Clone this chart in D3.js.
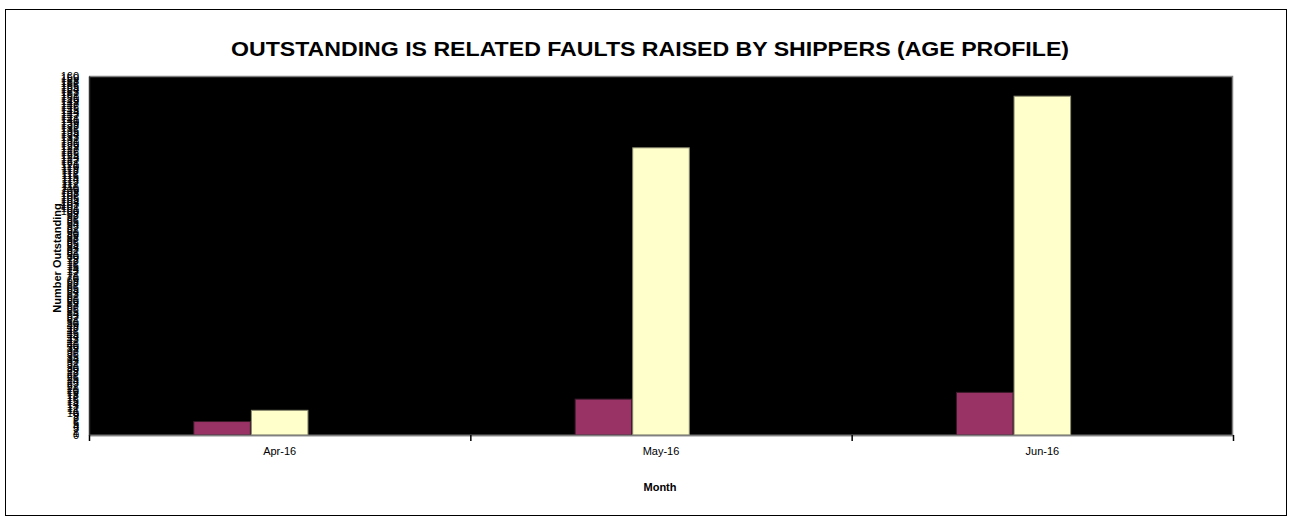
<!DOCTYPE html>
<html>
<head>
<meta charset="utf-8">
<script src="https://cdn.jsdelivr.net/npm/d3@7"></script>
<style>
  html, body { margin: 0; padding: 0; background: #ffffff; }
  svg { display: block; font-family: Arial, "Liberation Sans", sans-serif; }
</style>
</head>
<body>
<svg id="chart" width="1292" height="522"></svg>
<script>
// ---- data ----
const months = ["Apr-16", "May-16", "Jun-16"];
const seriesKeys = ["older", "recent", "other"];
const seriesOlder = [6, 16, 19];
const seriesRecent = [11, 128, 151];
const seriesOther = [0, 0, 0];
const yTicks = d3.range(0, 161, 1);
const titleText = "OUTSTANDING IS RELATED FAULTS RAISED BY SHIPPERS (AGE PROFILE)";
const xTitle = "Month";
const yTitle = "Number Outstanding";

const seriesValues = { older: seriesOlder, recent: seriesRecent, other: seriesOther };
const seriesFill = { older: "#993366", recent: "#FFFFCC", other: "none" };
const seriesStroke = { older: "#3a1a28", recent: "#8a8a70", other: "none" };

const svg = d3.select("#chart");

// outer frame
svg.append("rect")
  .attr("x", 5.5).attr("y", 9.5).attr("width", 1281).attr("height", 506)
  .attr("fill", "#fff").attr("stroke", "#000").attr("stroke-width", 1);

const plot = { left: 89, right: 1233, top: 76, bottom: 435 };

const y = d3.scaleLinear().domain([0, 160]).range([plot.bottom, plot.top]);
const x0 = d3.scaleBand().domain(months).range([plot.left, plot.right]).padding(0);
const groupW = x0.bandwidth() * 0.453;
const x1 = d3.scaleBand().domain(seriesKeys).range([0, groupW]).padding(0);

// plot background
svg.append("rect")
  .attr("x", plot.left).attr("y", plot.top)
  .attr("width", plot.right - plot.left).attr("height", plot.bottom - plot.top)
  .attr("fill", "#000");
// gray frame top/right/bottom
svg.append("path")
  .attr("d", `M${plot.left},${plot.top + 0.5}H${plot.right - 0.5}V${plot.bottom + 0.5}H${plot.left}`)
  .attr("fill", "none").attr("stroke", "#808080").attr("stroke-width", 1.5);

// bars
const groups = svg.append("g").selectAll("g")
  .data(months).join("g")
  .attr("transform", d => `translate(${x0(d) + (x0.bandwidth() - groupW) / 2},0)`);

groups.selectAll("rect")
  .data((m, i) => seriesKeys.map(k => ({ key: k, value: seriesValues[k][i] })))
  .join("rect")
  .attr("x", d => x1(d.key) + 0.5)
  .attr("width", x1.bandwidth() - 1)
  .attr("y", d => y(d.value))
  .attr("height", d => y(0) - y(d.value))
  .attr("fill", d => seriesFill[d.key])
  .attr("stroke", d => seriesStroke[d.key])
  .attr("stroke-width", 1);

// x axis
const xAxis = d3.axisBottom(x0).tickSize(0).tickPadding(12);
const gx = svg.append("g").attr("transform", `translate(0,${plot.bottom})`).call(xAxis);
gx.select(".domain").attr("stroke", "#808080").attr("stroke-width", 1.5);
gx.selectAll("text").attr("font-size", 11).attr("fill", "#000").attr("font-family", "Arial, 'Liberation Sans', sans-serif");
// tick marks at category boundaries
const bounds = months.map(m => x0(m)).concat([plot.right]);
svg.append("g").selectAll("line").data(bounds).join("line")
  .attr("x1", d => d + 0.5).attr("x2", d => d + 0.5)
  .attr("y1", plot.bottom).attr("y2", plot.bottom + 6)
  .attr("stroke", "#000").attr("stroke-width", 1.5);

// y axis
const yAxis = d3.axisLeft(y).tickValues(yTicks).tickFormat(d3.format("d")).tickSize(0).tickPadding(10);
const gy = svg.append("g").attr("transform", `translate(${plot.left},0)`).call(yAxis);
gy.select(".domain").attr("stroke", "#303030").attr("stroke-width", 1.5);
gy.selectAll("text").attr("font-size", 11).attr("fill", "#000").attr("font-family", "Arial, 'Liberation Sans', sans-serif");

// titles
svg.append("text")
  .attr("x", 650).attr("y", 56)
  .attr("text-anchor", "middle")
  .attr("font-size", 21).attr("font-weight", "bold")
  .attr("textLength", 838).attr("lengthAdjust", "spacingAndGlyphs")
  .text(titleText);

svg.append("text")
  .attr("x", 660).attr("y", 491)
  .attr("text-anchor", "middle")
  .attr("font-size", 11).attr("font-weight", "bold")
  .text(xTitle);

svg.append("text")
  .attr("transform", "translate(61,258) rotate(-90)")
  .attr("text-anchor", "middle")
  .attr("font-size", 11).attr("font-weight", "bold")
  .text(yTitle);
</script>
</body>
</html>
